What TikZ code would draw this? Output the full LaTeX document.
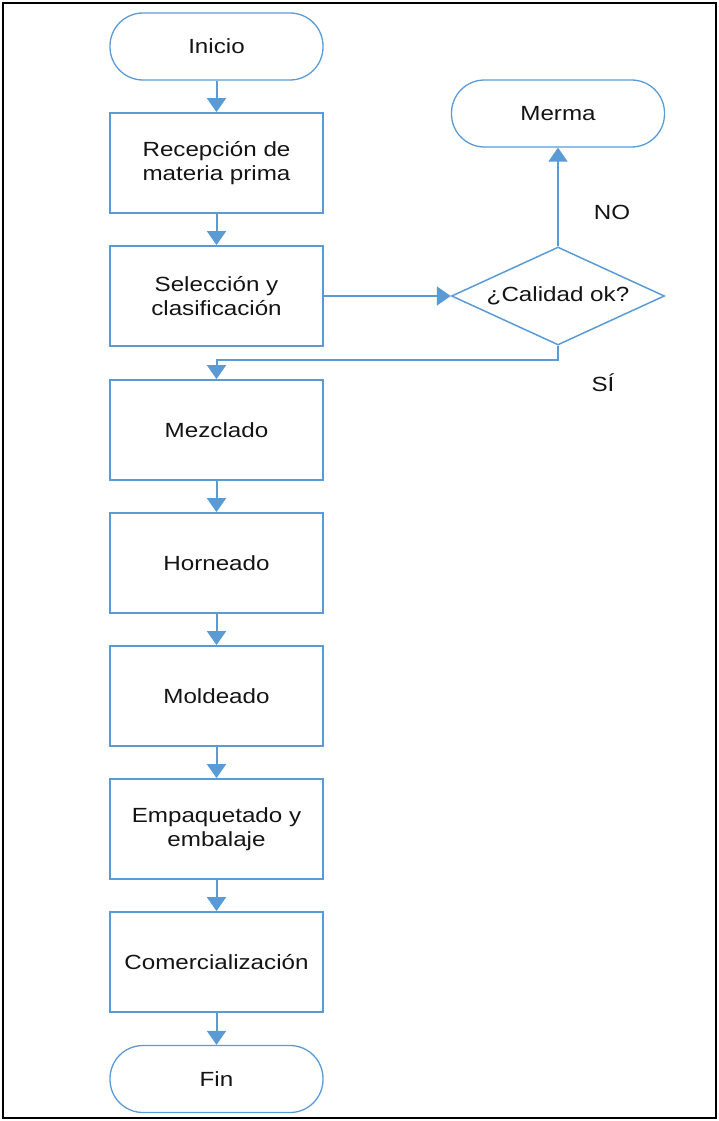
\documentclass[tikz,border=0pt]{standalone}
\usepackage{fontspec}
\setmainfont[FakeStretch=1.18]{Liberation Sans}
\usetikzlibrary{shapes.geometric,arrows.meta}
\definecolor{flowblue}{RGB}{91,155,213}
\begin{document}
\begin{tikzpicture}[x=1pt,y=-1pt,
  every node/.style={font=\fontsize{20.5}{24}\selectfont, text=black!92, align=center},
  stepbox/.style={draw=flowblue, line width=1.8pt, rectangle, minimum width=213pt, minimum height=100pt, inner sep=0pt},
  terminal/.style={draw=flowblue, line width=1.3pt, rectangle, rounded corners=33pt, minimum width=213pt, minimum height=67pt, inner sep=0pt},
  decision/.style={draw=flowblue, line width=1.5pt, diamond, aspect=2.17, minimum width=213pt, minimum height=98pt, inner sep=0pt},
  flow/.style={draw=flowblue, line width=2pt, -{Triangle[width=19pt,length=14pt]}},
  answer/.style={font=\fontsize{20.5}{24}\selectfont}]
% page frame
\useasboundingbox (0,0) rectangle (719,1121);
\draw[line width=2pt] (3,3) rectangle (716,1118);

% main column
\node[terminal] (ini) at (216.5,46.5) {Inicio};
\node[stepbox] (rec) at (216.5,163) {Recepción de\\materia prima};
\node[stepbox] (sel) at (216.5,296) {Selección y\\clasificación};
\node[stepbox] (mez) at (216.5,430) {Mezclado};
\node[stepbox] (hor) at (216.5,563) {Horneado};
\node[stepbox] (mol) at (216.5,696) {Moldeado};
\node[stepbox] (emp) at (216.5,829) {Empaquetado y\\embalaje};
\node[stepbox] (com) at (216.5,962) {Comercialización};
\node[terminal] (fin) at (216.5,1079) {Fin};

% quality check branch
\node[decision] (cal) at (558,296) {¿Calidad ok?};
\node[terminal] (mer) at (558,113.5) {Merma};
\coordinate (turn) at (558,360);
\coordinate (back) at (216.5,360);

\node[answer] (no) at (612,212) {NO};
\node[answer] (si) at (603,383) {SÍ};

% connectors
\draw[flow] (ini) -- (rec);
\draw[flow] (rec) -- (sel);
\draw[flow] (sel.east) -- (cal.west);
\draw[flow] (cal.north) -- (mer.south);
\draw[flow] (cal.south) -- (turn) -- (back) -- (mez.north);
\draw[flow] (mez) -- (hor);
\draw[flow] (hor) -- (mol);
\draw[flow] (mol) -- (emp);
\draw[flow] (emp) -- (com);
\draw[flow] (com) -- (fin);
\end{tikzpicture}
\end{document}
